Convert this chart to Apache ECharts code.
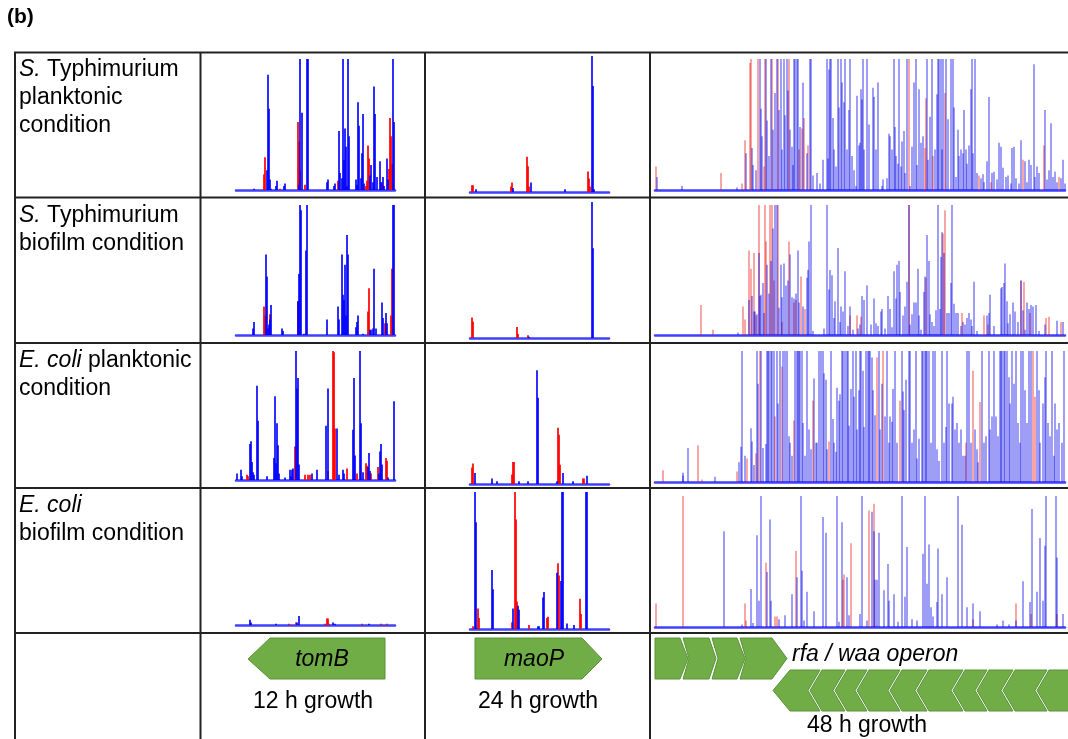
<!DOCTYPE html>
<html>
<head>
<meta charset="utf-8">
<script src="https://cdn.jsdelivr.net/npm/echarts@6/dist/echarts.min.js"></script>
<style>
	html, body { margin: 0; padding: 0; background: #fff; }
	#chart { width: 1068px; height: 739px; }
</style>
</head>
<body>
<div id="chart"></div>
<script>
// peaks as [position, relative height %]
const tomB_stPlank_blue = [[18,1],[31,15],[32,88],[33,62],[34,8],[35,1],[40,3],[41,7],[48,3],[49,5],[63,4],[64,100],[66,59],[71,100],[72,100],[91,6],[92,8],[98,3],[99,5],[103,45],[104,13],[106,9],[107,100],[108,23],[109,47],[110,33],[111,3],[112,100],[113,41],[120,8],[121,4],[122,67],[123,49],[125,9],[126,28],[127,58],[128,5],[134,11],[135,19],[137,6],[138,79],[139,58],[141,10],[144,22],[145,6],[147,10],[148,3],[151,24],[152,8],[157,100],[158,52]];
const tomB_stPlank_red = [[28,12],[29,25],[44,1],[62,52],[63,37],[64,15],[69,4],[102,7],[130,3],[131,7],[132,34],[133,24],[146,6],[147,3],[153,16],[154,55],[155,41],[156,20]];

const tomB_stBio_blue = [[17,5],[18,10],[30,62],[31,45],[32,5],[33,8],[34,12],[35,23],[46,5],[47,3],[62,26],[63,47],[64,100],[65,96],[68,1],[70,65],[71,100],[91,12],[102,22],[103,12],[106,62],[107,31],[108,27],[109,54],[110,15],[111,77],[112,62],[120,6],[121,10],[122,15],[127,1],[134,4],[135,4],[137,5],[138,51],[140,5],[146,25],[147,13],[150,17],[151,9],[157,100],[158,100]];
const tomB_stBio_red = [[28,22],[29,15],[34,16],[62,26],[132,18],[133,36],[149,9],[155,15],[156,51]];

const tomB_ecPlank_blue = [[1,5],[5,8],[6,3],[14,28],[15,30],[16,14],[17,6],[18,4],[21,73],[22,46],[31,3],[38,17],[39,65],[40,13],[41,44],[42,27],[43,5],[49,2],[54,8],[55,3],[56,8],[57,9],[60,100],[61,71],[62,79],[63,12],[76,5],[81,8],[90,42],[92,71],[101,40],[103,4],[107,8],[108,5],[117,39],[118,79],[119,19],[124,100],[125,44],[127,6],[132,10],[133,21],[134,7],[143,5],[144,22],[145,28],[146,12],[152,2],[158,61]];
const tomB_ecPlank_red = [[11,4],[12,3],[59,26],[69,4],[72,4],[74,4],[92,7],[97,100],[98,99],[99,40],[111,9],[121,5],[130,13],[131,11],[135,5],[142,10],[150,17],[151,15]];

const tomB_ecBio_blue = [[14,4],[15,2],[40,1],[61,2],[63,7],[97,2],[99,1],[133,1]];
const tomB_ecBio_red = [[53,1],[60,2],[89,1],[91,5],[92,5],[93,1],[126,1],[145,1],[151,1]];

const maoP_stPlank_blue = [[6,2],[43,3],[61,7],[95,2],[122,100],[123,78],[124,2]];
const maoP_stPlank_red = [[2,5],[3,5],[41,4],[42,7],[57,26],[58,19],[59,4],[118,15],[119,10],[120,4]];

const maoP_stBio_blue = [[59,1],[122,100],[123,66]];
const maoP_stBio_red = [[2,15],[3,12],[47,8],[48,3],[58,2]];

const maoP_ecPlank_blue = [[5,8],[22,4],[27,2],[49,2],[58,2],[67,83],[68,63],[87,2],[93,8],[103,2],[117,6]];
const maoP_ecPlank_red = [[2,12],[3,15],[42,7],[43,16],[44,16],[88,41],[89,36],[90,14],[113,4],[114,4]];

const maoP_ecBio_blue = [[5,100],[6,78],[22,43],[23,29],[43,15],[48,17],[49,14],[68,2],[69,2],[73,23],[74,27],[87,41],[91,35],[92,100],[93,100],[97,4],[104,3],[116,100],[117,100]];
const maoP_ecBio_red = [[3,2],[8,15],[9,8],[42,5],[45,100],[46,80],[47,20],[59,3],[77,8],[78,9],[88,48],[89,39],[110,22],[111,11]];

const rfa_stPlank_blue = [[2,10],[27,3],[82,2],[91,28],[97,32],[98,19],[101,15],[105,100],[106,62],[107,41],[111,100],[112,53],[114,26],[116,100],[118,46],[120,74],[122,100],[124,61],[126,100],[127,31],[129,100],[130,57],[132,100],[133,76],[135,46],[137,33],[138,19],[139,100],[140,100],[142,100],[143,100],[145,48],[148,82],[152,28],[155,100],[156,100],[158,11],[162,13],[165,5],[168,23],[172,100],[173,24],[174,92],[175,100],[176,100],[178,55],[179,31],[181,18],[183,100],[184,63],[186,100],[187,82],[189,67],[190,100],[192,31],[194,61],[195,100],[197,26],[199,15],[201,3],[202,72],[204,34],[205,36],[206,77],[207,69],[208,100],[209,31],[212,100],[214,50],[218,78],[219,71],[221,31],[223,82],[227,3],[228,8],[232,9],[234,43],[235,41],[237,31],[239,100],[240,48],[241,26],[243,20],[244,100],[246,18],[247,37],[249,45],[250,13],[252,100],[255,3],[257,33],[259,82],[261,100],[262,19],[264,77],[266,36],[268,41],[272,100],[273,23],[275,56],[277,100],[280,31],[282,73],[283,100],[284,100],[286,100],[287,31],[288,100],[291,100],[293,54],[296,100],[298,100],[299,63],[301,10],[303,46],[304,26],[306,31],[308,28],[309,61],[311,31],[312,20],[314,34],[316,77],[317,100],[318,28],[320,100],[322,13],[326,9],[328,12],[329,6],[332,22],[334,71],[337,13],[339,14],[342,8],[344,36],[346,33],[348,17],[351,10],[353,11],[356,5],[357,32],[359,33],[361,9],[364,5],[366,38],[370,22],[372,6],[374,23],[376,19],[379,96],[380,10],[382,18],[384,13],[390,61],[392,8],[394,15],[396,51],[398,10],[400,14],[402,6],[406,9],[408,23],[410,5]];
const rfa_stPlank_red = [[1,18],[66,13],[87,5],[90,38],[95,97],[96,100],[103,100],[109,18],[110,100],[117,100],[123,100],[134,100],[144,31],[147,47],[149,55],[153,34],[254,100],[270,32],[271,70],[278,26],[290,74],[324,11],[336,6],[368,23],[389,34],[404,10]];

const rfa_stBio_blue = [[83,2],[94,27],[97,30],[99,18],[100,18],[102,16],[104,63],[105,30],[106,31],[108,40],[109,17],[112,54],[114,32],[116,57],[118,82],[120,100],[122,100],[124,21],[126,54],[127,29],[129,55],[131,38],[133,42],[135,62],[137,29],[139,28],[141,32],[143,65],[144,25],[148,22],[152,44],[153,50],[154,72],[156,100],[158,3],[169,5],[172,100],[174,35],[175,50],[177,46],[179,13],[180,26],[183,67],[185,10],[186,22],[188,18],[190,49],[193,7],[195,22],[198,4],[203,5],[205,8],[207,30],[209,27],[212,38],[216,8],[219,28],[221,9],[223,7],[226,18],[227,20],[230,5],[233,30],[235,20],[237,6],[239,49],[241,28],[242,54],[244,57],[245,33],[248,15],[250,22],[252,41],[254,100],[255,8],[257,16],[259,25],[261,25],[263,51],[264,15],[266,4],[269,33],[270,45],[272,77],[274,57],[275,16],[277,10],[279,7],[281,19],[283,100],[285,20],[286,60],[287,79],[289,63],[292,17],[294,17],[296,40],[297,100],[299,24],[301,17],[303,17],[306,7],[308,10],[310,8],[312,13],[314,17],[316,12],[317,7],[319,41],[322,3],[332,15],[334,17],[335,31],[339,7],[346,36],[347,37],[349,40],[350,55],[352,26],[353,9],[355,16],[358,25],[360,18],[363,10],[366,42],[368,19],[370,4],[372,25],[374,20],[376,23],[378,22],[381,23],[384,3],[390,8],[402,11],[408,10]];
const rfa_stBio_red = [[46,23],[58,4],[88,22],[90,12],[94,65],[96,51],[99,63],[101,15],[104,100],[110,100],[111,72],[115,100],[117,100],[119,42],[123,100],[127,10],[134,72],[139,25],[141,27],[146,45],[150,20],[195,15],[202,15],[206,14],[254,100],[271,44],[288,78],[290,96],[307,17],[329,15],[333,8],[366,42],[369,41],[375,17],[391,13],[394,14],[406,10]];

const rfa_ecPlank_blue = [[28,7],[28,5],[33,26],[60,4],[84,15],[86,27],[87,100],[90,20],[96,41],[97,31],[99,13],[102,100],[103,75],[106,100],[108,26],[111,29],[112,100],[113,100],[114,100],[116,100],[117,100],[119,100],[122,100],[123,60],[125,100],[128,100],[130,100],[132,100],[134,35],[135,30],[137,20],[140,100],[142,100],[143,100],[144,100],[145,100],[147,100],[148,45],[150,20],[152,100],[154,40],[156,25],[159,79],[161,30],[162,30],[164,100],[166,100],[168,100],[169,83],[171,78],[172,25],[176,100],[178,48],[179,30],[181,23],[182,72],[184,62],[185,67],[187,100],[188,100],[190,100],[192,100],[193,100],[194,43],[196,71],[198,100],[199,65],[201,100],[202,40],[204,70],[205,100],[206,100],[208,85],[209,42],[211,100],[213,100],[214,100],[215,100],[217,95],[218,70],[220,51],[224,100],[225,40],[227,75],[230,50],[232,100],[234,30],[235,50],[237,46],[238,71],[240,100],[242,30],[247,100],[248,69],[249,55],[251,78],[254,100],[255,100],[257,30],[259,40],[261,100],[262,18],[264,33],[267,100],[268,100],[270,100],[271,100],[272,100],[274,100],[276,30],[278,100],[280,100],[282,25],[284,16],[287,100],[289,30],[291,42],[292,100],[294,60],[297,60],[298,65],[300,40],[302,45],[304,30],[306,40],[308,20],[310,20],[312,100],[314,100],[316,30],[320,40],[322,25],[323,15],[327,100],[329,30],[331,35],[334,100],[335,40],[337,50],[339,100],[341,50],[343,35],[345,100],[346,100],[347,100],[349,100],[350,100],[352,100],[354,80],[355,60],[357,100],[359,75],[361,100],[363,45],[365,30],[366,100],[368,100],[370,70],[372,45],[374,100],[376,100],[382,100],[384,70],[385,30],[388,60],[390,80],[391,100],[393,45],[395,35],[397,100],[399,20],[400,60],[402,40],[404,45],[407,30],[409,100]];
const rfa_ecPlank_red = [[8,9],[43,28],[47,2],[82,8],[92,18],[101,22],[105,100],[120,50],[127,88],[139,47],[158,62],[174,31],[222,95],[228,100],[245,62],[311,30],[318,85],[325,61],[378,100],[380,65]];

const rfa_ecBio_blue = [[69,73],[87,2],[96,29],[98,3],[102,70],[104,20],[106,100],[112,42],[115,82],[116,20],[124,6],[130,9],[137,25],[142,38],[146,100],[147,43],[149,5],[152,27],[159,12],[168,84],[171,72],[182,100],[184,4],[187,80],[192,38],[194,9],[205,10],[207,100],[212,5],[217,88],[219,73],[220,36],[222,36],[224,72],[229,28],[233,48],[234,20],[239,25],[243,4],[247,100],[250,23],[252,61],[257,6],[262,5],[268,56],[270,100],[272,33],[274,63],[276,15],[278,8],[282,19],[283,60],[287,25],[292,38],[303,100],[307,78],[312,15],[318,18],[325,12],[342,2],[348,5],[354,2],[361,5],[368,35],[375,19],[377,90],[382,27],[385,68],[388,20],[390,62],[391,100],[401,100],[402,53],[408,10]];
const rfa_ecBio_red = [[1,18],[28,100],[90,18],[91,5],[111,49],[120,8],[122,8],[141,58],[188,36],[189,40],[196,64],[214,89],[219,94],[318,6],[361,18],[376,10],[402,10]];

const rowLabels = [
	["{i|S.} Typhimurium", "planktonic", "condition"],
	["{i|S.} Typhimurium", "biofilm condition"],
	["{i|E. coli} planktonic", "condition"],
	["{i|E. coli}", "biofilm condition"],
];
const growthLabels = ["12 h growth", "24 h growth", "48 h growth"];

const FONT = "'Liberation Sans', Arial, sans-serif";
const FS = 23;

// plot-area geometry for each column / row
const cols = [
	{ left: 236, width: 159, max: 159, bw: 2, blue: "rgba(0,0,255,0.82)", red: "rgba(255,0,0,0.85)" },
	{ left: 470, width: 139, max: 139, bw: 2, blue: "rgba(0,0,255,0.82)", red: "rgba(255,0,0,0.85)" },
	{ left: 655, width: 410, max: 410, bw: 1.4, blue: "rgba(0,0,230,0.55)", red: "rgba(235,0,0,0.5)" },
];
const rowBoxes = [
	[[59, 190], [205, 335], [351, 480], [496, 625]],
	[[56, 192], [202, 338], [347, 484], [492, 629]],
	[[59, 190], [205, 335], [351, 482], [496, 627]],
];

const cells = [
	[[tomB_stPlank_blue, tomB_stPlank_red], [tomB_stBio_blue, tomB_stBio_red], [tomB_ecPlank_blue, tomB_ecPlank_red], [tomB_ecBio_blue, tomB_ecBio_red]],
	[[maoP_stPlank_blue, maoP_stPlank_red], [maoP_stBio_blue, maoP_stBio_red], [maoP_ecPlank_blue, maoP_ecPlank_red], [maoP_ecBio_blue, maoP_ecBio_red]],
	[[rfa_stPlank_blue, rfa_stPlank_red], [rfa_stBio_blue, rfa_stBio_red], [rfa_ecPlank_blue, rfa_ecPlank_red], [rfa_ecBio_blue, rfa_ecBio_red]],
];

const grid = [], xAxis = [], yAxis = [], series = [];

for (let c = 0; c < 3; c++)
	for (let r = 0; r < 4; r++) {
		const idx = grid.length;
		const [top, bottom] = rowBoxes[c][r];
		grid.push({ left: cols[c].left, top: top, width: cols[c].width, height: bottom - top });
		xAxis.push({
			gridIndex : idx,
			type      : "value",
			min       : 0,
			max       : cols[c].max,
			axisLine  : { show: true, lineStyle: { color: "#4040ff", width: 2.5 } },
			axisTick  : { show: false },
			axisLabel : { show: false },
			splitLine : { show: false },
		});
		yAxis.push({ gridIndex: idx, type: "value", min: 0, max: 100, show: false });
		const [blue, red] = cells[c][r];
		series.push({
			type       : "bar",
			xAxisIndex : idx,
			yAxisIndex : idx,
			barWidth   : cols[c].bw,
			barGap     : "-100%",
			itemStyle  : { color: cols[c].red },
			data       : red,
			silent     : true,
		});
		series.push({
			type       : "bar",
			xAxisIndex : idx,
			yAxisIndex : idx,
			barWidth   : cols[c].bw,
			barGap     : "-100%",
			itemStyle  : { color: cols[c].blue },
			data       : blue,
			silent     : true,
		});
	}

const graphic = [];
const LINE = { stroke: "#222", lineWidth: 2 };

// table rules
for (const y of [52.5, 197.5, 343, 488, 633])
	graphic.push({ type: "line", shape: { x1: 14, y1: y, x2: 1068, y2: y }, style: LINE });
for (const x of [15, 200.5, 425, 650])
	graphic.push({ type: "line", shape: { x1: x, y1: 52, x2: x, y2: 739 }, style: LINE });

graphic.push({
	type  : "text",
	x     : 7,
	y     : 17,
	style : { text: "(b)", font: `bold 21px ${FONT}`, fill: "#000", verticalAlign: "middle" },
});

const rich = { i: { fontStyle: "italic", fontSize: FS, fontFamily: FONT, fill: "#000" } };
rowLabels.forEach((lines, r) => {
	lines.forEach((t, k) => {
		graphic.push({
			type  : "text",
			x     : 19,
			y     : 70 + r * 145.3 + k * 28,
			style : { text: t, rich: rich, fontSize: FS, fontFamily: FONT, fill: "#000", verticalAlign: "middle", align: "left" },
		});
	});
});

const growthPos = [[313, 702], [538, 702], [867, 726]];
growthLabels.forEach((t, i) => {
	graphic.push({
		type  : "text",
		x     : growthPos[i][0],
		y     : growthPos[i][1],
		style : { text: t, fontSize: FS, fontFamily: FONT, fill: "#000", align: "center", verticalAlign: "middle" },
	});
});

// gene arrows
const GENE = { fill: "#70ad47", stroke: "#5a9238", lineWidth: 1 };
graphic.push({ type: "polygon", shape: { points: [[248, 659], [270, 638], [385, 638], [385, 679], [270, 679]] }, style: GENE });
graphic.push({ type: "polygon", shape: { points: [[475, 638], [582, 638], [602, 659], [582, 679], [475, 679]] }, style: GENE });

// rfa top row: right-pointing pieces
const topEdges = [655, 683, 712, 740];
const topTips = [[680, 688], [709, 716], [737, 745], [772, 787]];
for (let i = 0; i < 4; i++) {
	const L = topEdges[i];
	const [R, tip] = topTips[i];
	const pts = [[L, 638], [R, 638], [tip, 658.5], [R, 679], [L, 679]];
	if (i > 0) pts.push([L + 6, 658.5]);
	graphic.push({ type: "polygon", shape: { points: pts }, style: GENE });
}
// rfa bottom row: left-pointing pieces
const botTips = [773, 810, 835, 857, 890, 917, 953, 977, 1003, 1037];
for (let i = 0; i < botTips.length; i++) {
	const L = botTips[i];
	const d = i == 0 ? 17 : 12;
	const pts = [[L, 690.5], [L + d, 670]];
	if (i < botTips.length - 1) {
		const N = botTips[i + 1] - 2;
		pts.push([N + 12, 670], [N, 690.5], [N + 12, 711]);
	} else {
		pts.push([1070, 670], [1070, 711]);
	}
	pts.push([L + d, 711]);
	graphic.push({ type: "polygon", shape: { points: pts }, style: GENE });
}

graphic.push({ type: "text", x: 322, y: 660, style: { text: "tomB", font: `italic ${FS}px ${FONT}`, fill: "#000", align: "center", verticalAlign: "middle" } });
graphic.push({ type: "text", x: 534, y: 660, style: { text: "maoP", font: `italic ${FS}px ${FONT}`, fill: "#000", align: "center", verticalAlign: "middle" } });
graphic.push({ type: "text", x: 792, y: 655, style: { text: "rfa / waa operon", font: `italic ${FS}px ${FONT}`, fill: "#000", align: "left", verticalAlign: "middle" } });

const chart = echarts.init(document.getElementById("chart"), null, { renderer: "canvas" });
chart.setOption({
	animation : false,
	grid      : grid,
	xAxis     : xAxis,
	yAxis     : yAxis,
	series    : series,
	graphic   : graphic,
});
</script>
</body>
</html>
